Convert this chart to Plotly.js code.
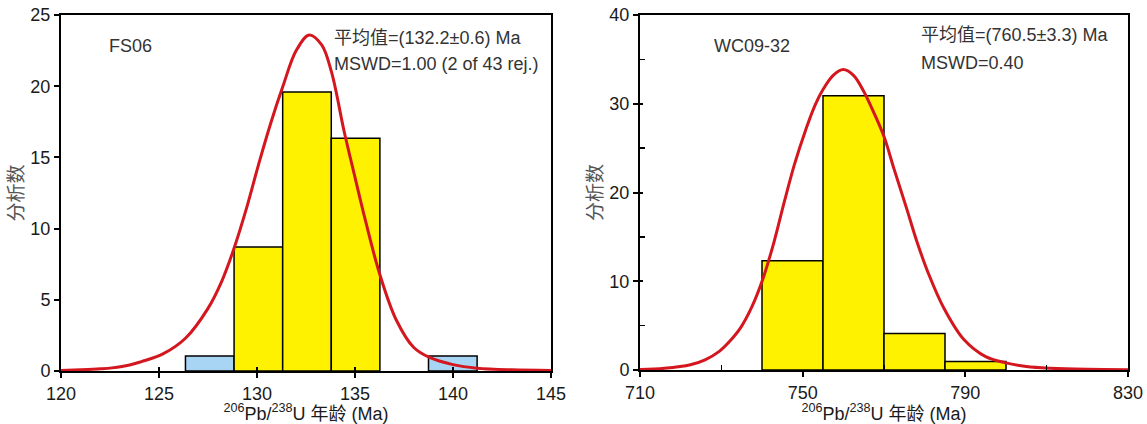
<!DOCTYPE html>
<html>
<head>
<meta charset="utf-8">
<script src="https://cdn.plot.ly/plotly-3.0.1.min.js"></script>
<style>
  html, body { margin: 0; padding: 0; background: #ffffff; }
  #chart { width: 1147px; height: 424px; }
</style>
</head>
<body>
<div id="chart"></div>
<script>
// ---------- Left panel: FS06 ----------
const fsBinStart = [126.35, 128.83, 131.31, 133.79, 138.75];
const fsBinWidth = 2.48;
const fsCounts = [1.05, 8.7, 19.6, 16.35, 1.05];
const fsRejected = [true, false, false, false, true];
const fsCurveX = [120, 121, 122, 122.6, 123.5, 124.1, 125.2, 126.35, 127.5, 128.2, 128.8, 129.5, 130.1, 130.7, 131.3, 132.0, 132.66, 133.3, 133.8, 134.45, 135.0, 135.4, 136.24, 137.1, 138.0, 138.8, 140.0, 141.23, 143, 145];
const fsCurveY = [0.03, 0.08, 0.15, 0.22, 0.42, 0.66, 1.2, 2.3, 4.4, 6.3, 8.5, 11.6, 14.6, 17.4, 19.9, 22.5, 23.6, 22.9, 21.0, 16.8, 13.6, 11.3, 6.9, 3.6, 1.65, 0.95, 0.45, 0.2, 0.08, 0.04];
const fsXTicks = [120, 125, 130, 135, 140, 145];
const fsYTicks = [0, 5, 10, 15, 20, 25];

// ---------- Right panel: WC09-32 ----------
const wcBinStart = [740, 755, 770, 785];
const wcBinWidth = 15;
const wcCounts = [12.3, 30.9, 4.1, 0.95];
const wcCurveX = [710, 716, 722.4, 726, 729.5, 732, 734.8, 737.5, 740.1, 743, 745.4, 748, 750.7, 753, 755, 757.5, 760, 762.5, 764.9, 767.5, 770, 772.5, 775.5, 778, 780.9, 784.8, 789.7, 795, 800, 805, 811, 820, 830];
const wcCurveY = [0.05, 0.2, 0.6, 1.15, 2.1, 3.2, 4.8, 7.1, 10.1, 14.5, 18.8, 23.2, 27, 29.8, 31.6, 33.2, 33.86, 33.2, 31.5, 29, 26.3, 22.6, 18.3, 14.6, 10.9, 6.9, 3.4, 1.5, 0.8, 0.4, 0.2, 0.08, 0.04];
const wcXTicks = [710, 750, 790, 830];
const wcYTicks = [0, 10, 20, 30, 40];
const wcXMinor = [730, 770, 810];
const wcYMinor = [5, 15, 25, 35];

// ---------- Text ----------
const fsLabel = 'FS06';
const fsMean = '平均值=(132.2±0.6) Ma';
const fsMswd = 'MSWD=1.00 (2 of 43 rej.)';
const wcLabel = 'WC09-32';
const wcMean = '平均值=(760.5±3.3) Ma';
const wcMswd = 'MSWD=0.40';
const xTitle = '<sup>206</sup>Pb/<sup>238</sup>U 年龄 (Ma)';
const yTitle = '分析数';

const YELLOW = '#FFF200';
const BLUE = '#A9D5F5';
const RED = '#D4171F';
const FONT = 'Liberation Sans, Arial, Noto Sans CJK SC, sans-serif';

const centers = (starts, w) => starts.map(s => s + w / 2);

const traces = [
  {
    type: 'bar', x: centers(fsBinStart, fsBinWidth), y: fsCounts, width: fsBinWidth,
    marker: { color: fsRejected.map(r => r ? BLUE : YELLOW), line: { color: '#000', width: 1.5 } },
    xaxis: 'x', yaxis: 'y', hoverinfo: 'skip'
  },
  {
    type: 'scatter', mode: 'lines', x: fsCurveX, y: fsCurveY,
    line: { color: RED, width: 3, shape: 'spline', smoothing: 1 },
    xaxis: 'x', yaxis: 'y', hoverinfo: 'skip'
  },
  {
    type: 'bar', x: centers(wcBinStart, wcBinWidth), y: wcCounts, width: wcBinWidth,
    marker: { color: YELLOW, line: { color: '#000', width: 1.5 } },
    xaxis: 'x2', yaxis: 'y2', hoverinfo: 'skip'
  },
  {
    type: 'scatter', mode: 'lines', x: wcCurveX, y: wcCurveY,
    line: { color: RED, width: 3, shape: 'spline', smoothing: 1 },
    xaxis: 'x2', yaxis: 'y2', hoverinfo: 'skip'
  },
  // empty carriers for the inner-tick overlay axes
  { type: 'scatter', mode: 'lines', x: [], y: [], xaxis: 'x3', yaxis: 'y', hoverinfo: 'skip' },
  { type: 'scatter', mode: 'lines', x: [], y: [], xaxis: 'x2', yaxis: 'y3', hoverinfo: 'skip' }
];

const axisBase = {
  showline: true, mirror: true, linecolor: '#000', linewidth: 2,
  ticks: 'outside', ticklen: 5, tickwidth: 2, tickcolor: '#000',
  showgrid: false, zeroline: false, fixedrange: true,
  tickfont: { family: FONT, size: 18, color: '#1a1a1a' }
};
const xTitleObj = { text: xTitle, font: { family: FONT, size: 18, color: '#1a1a1a' }, standoff: 3 };
const yTitleObj = { text: yTitle, font: { family: FONT, size: 19, color: '#555' }, standoff: 2 };
const innerTicks = {
  showline: false, showgrid: false, zeroline: false, fixedrange: true,
  ticks: 'inside', ticklen: 4, tickwidth: 2, tickcolor: '#000', showticklabels: false
};

const leftDomainX = [61 / 1147, 551 / 1147];
const leftDomainY = [1 - 371 / 424, 1 - 15 / 424];
const rightDomainX = [640 / 1147, 1128 / 1147];
const rightDomainY = [1 - 370 / 424, 1 - 15 / 424];

const layout = {
  width: 1147, height: 424,
  margin: { l: 0, r: 0, t: 0, b: 0 },
  paper_bgcolor: '#fff', plot_bgcolor: '#fff',
  showlegend: false, bargap: 0,
  xaxis: Object.assign({}, axisBase, {
    domain: leftDomainX, range: [120, 145], tickvals: fsXTicks, anchor: 'y',
    title: xTitleObj
  }),
  xaxis3: Object.assign({}, innerTicks, {
    domain: leftDomainX, range: [120, 145], tickvals: fsXTicks, anchor: 'y', overlaying: 'x', side: 'bottom'
  }),
  yaxis: Object.assign({}, axisBase, {
    domain: leftDomainY, range: [0, 25], tickvals: fsYTicks, anchor: 'x',
    title: yTitleObj
  }),
  xaxis2: Object.assign({}, axisBase, {
    domain: rightDomainX, range: [710, 830], tickvals: wcXTicks, anchor: 'y2',
    minor: { tickvals: wcXMinor, ticks: 'inside', ticklen: 5, tickwidth: 1.5, tickcolor: '#000' },
    title: xTitleObj
  }),
  yaxis2: Object.assign({}, axisBase, {
    domain: rightDomainY, range: [0, 40], tickvals: wcYTicks, anchor: 'x2',
    minor: { tickvals: wcYMinor, ticks: 'inside', ticklen: 5, tickwidth: 1.5, tickcolor: '#000' },
    title: yTitleObj
  }),
  yaxis3: Object.assign({}, innerTicks, {
    domain: rightDomainY, range: [0, 40], tickvals: wcYTicks, anchor: 'x2', overlaying: 'y2', side: 'left', ticklen: 3
  }),
  annotations: [
    { xref: 'x domain', yref: 'y domain', x: 0.094, y: 0.913, xanchor: 'left', yanchor: 'middle', showarrow: false, text: fsLabel, font: { family: FONT, size: 18, color: '#333' } },
    { xref: 'x domain', yref: 'y domain', x: 0.553, y: 0.935, xanchor: 'left', yanchor: 'middle', showarrow: false, text: fsMean, font: { family: FONT, size: 18, color: '#333' } },
    { xref: 'x domain', yref: 'y domain', x: 0.553, y: 0.863, xanchor: 'left', yanchor: 'middle', showarrow: false, text: fsMswd, font: { family: FONT, size: 18, color: '#333' } },
    { xref: 'x2 domain', yref: 'y2 domain', x: 0.148, y: 0.913, xanchor: 'left', yanchor: 'middle', showarrow: false, text: wcLabel, font: { family: FONT, size: 18, color: '#333' } },
    { xref: 'x2 domain', yref: 'y2 domain', x: 0.572, y: 0.944, xanchor: 'left', yanchor: 'middle', showarrow: false, text: wcMean, font: { family: FONT, size: 18, color: '#333' } },
    { xref: 'x2 domain', yref: 'y2 domain', x: 0.572, y: 0.865, xanchor: 'left', yanchor: 'middle', showarrow: false, text: wcMswd, font: { family: FONT, size: 18, color: '#333' } }
  ]
};

Plotly.newPlot('chart', traces, layout, { staticPlot: true, displayModeBar: false });
</script>
</body>
</html>
